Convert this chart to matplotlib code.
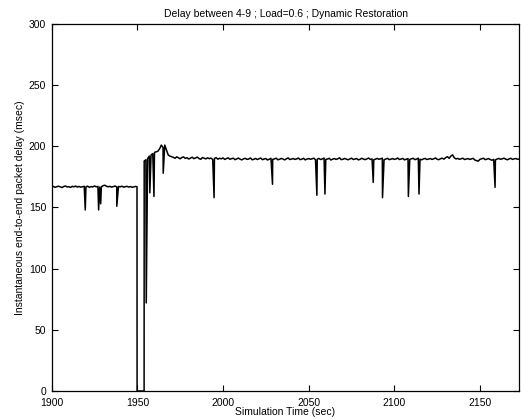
import matplotlib
matplotlib.use("Agg")
import matplotlib.pyplot as plt

# ---------------- data ----------------
title = "Delay between 4-9 ; Load=0.6 ; Dynamic Restoration"
xlabel = "Simulation Time (sec)"
ylabel = "Instantaneous end-to-end packet delay (msec)"
xticks = [1900, 1950, 2000, 2050, 2100, 2150]
yticks = [0, 50, 100, 150, 200, 250, 300]

pre_start = 1900  # one sample per second
pre_values = [
    166.8, 167.2, 166.5, 167.0, 167.4, 166.9, 166.3, 167.1, 167.6, 166.8,
    167.0, 166.4, 167.3, 166.9, 167.5, 166.7, 167.2, 166.6, 167.0, 167.3,
    166.9, 167.4, 166.5, 167.1, 166.8, 167.6, 166.9, 167.2, 166.7, 167.0,
    167.8, 168.2, 167.4, 166.9, 167.3, 166.6, 167.1, 167.5, 166.8, 167.2,
    166.9, 167.4, 166.6, 167.0, 167.3, 166.7, 167.1, 166.5, 166.9, 167.2,
]

outage_times = [1949.8, 1949.85, 1953.95, 1954.0]
outage_values = [167.0, 0.0, 0.0, 188.0]

post_start = 1955  # one sample per second
post_values = [
    189.0, 190.0, 192.0, 193.0, 194.0, 195.0, 195.5, 196.0, 198.0, 201.0,
    199.0, 201.0, 197.0, 193.0, 192.0, 191.5,
    191.0, 190.2, 191.4, 190.6, 189.8, 190.9, 191.3, 190.1, 190.7, 189.6,
    190.4, 191.1, 189.9, 190.5, 191.2, 190.0, 189.4, 190.8, 190.3, 189.7,
    190.6, 189.9, 190.4, 189.2, 190.1, 190.7, 189.5, 190.2, 189.8, 190.5,
    189.3, 190.0, 190.6, 189.4, 189.9, 190.3, 189.1, 189.7, 190.4, 189.5,
    188.9, 189.8, 190.2, 189.3, 189.6, 190.5, 189.0, 189.4, 190.1, 189.2,
    189.8, 190.4, 189.1, 189.6, 190.0, 188.8, 189.5, 190.2, 189.3, 189.7,
    190.3, 189.0, 189.4, 190.1, 189.6, 188.9, 189.8, 190.5, 189.2, 189.6,
    190.0, 189.3, 189.7, 190.4, 189.1, 189.5, 190.2, 188.9, 189.6, 190.0,
    189.4, 189.8, 190.3, 189.0, 189.5, 190.1, 189.2, 189.7, 190.4, 189.3,
    189.6, 190.2, 188.8, 189.5, 190.0, 189.3, 189.8, 190.6, 189.1, 189.4,
    190.1, 189.5, 189.0, 189.7, 190.3, 189.2, 189.6, 190.0, 188.9, 189.4,
    190.2, 189.6, 189.1, 189.8, 190.4, 189.3, 189.7, 189.0, 189.5, 190.1,
    189.4, 189.8, 190.3, 189.0, 189.6, 190.2, 189.1, 189.5, 190.0, 189.3,
    189.7, 190.4, 189.2, 189.6, 190.1, 188.9, 189.5, 190.0, 189.3, 189.8,
    190.2, 189.1, 189.6, 190.3, 189.4, 189.0, 189.7, 190.1, 189.2, 189.6,
    190.0, 189.3, 189.8, 190.5, 189.4, 189.1, 189.9, 190.3, 189.5, 190.8,
    191.5, 190.2, 192.0, 193.0, 190.6, 189.7, 190.1, 189.4, 189.8, 190.3,
    189.2, 189.6, 190.0, 189.3, 189.7, 190.2, 188.8, 188.3, 187.9, 189.4,
    189.8, 190.3, 189.1, 189.5, 190.0, 189.2, 188.6, 189.3, 188.9, 189.6,
    190.1, 189.4, 189.8, 190.3, 189.5, 189.0, 189.7, 190.2, 189.3, 189.8,
    190.0, 189.4, 189.7,
]

spike_times = [1919.6, 1927.4, 1928.6, 1938.0, 1955.2, 1957.3, 1959.7, 1965.1,
               1994.8, 2028.9, 2054.8, 2059.5, 2087.7, 2093.1, 2108.2, 2114.4,
               2158.8]
spike_values = [148, 148, 153, 151, 72, 162, 159, 178,
                158, 169, 160, 161, 170.5, 158, 159, 161,
                166.5]

# ---------------- build series ----------------
pts = []
pts += [(pre_start + i, v) for i, v in enumerate(pre_values)]
pts += list(zip(outage_times, outage_values))
pts += [(post_start + i, v) for i, v in enumerate(post_values)]
pts += list(zip(spike_times, spike_values))
pts.sort(key=lambda p: p[0])
t = [p[0] for p in pts]
y = [p[1] for p in pts]

# ---------------- plot ----------------
plt.rcParams['font.family'] = ['Liberation Sans', 'DejaVu Sans']
fig = plt.figure(figsize=(5.22, 4.19), dpi=100)
ax = fig.add_axes([0.099, 0.0668, 0.896, 0.876])
ax.plot(t, y, color='black', linewidth=1.1)
ax.set_xlim(1900, 2173)
ax.set_ylim(0, 300)
ax.set_xticks(xticks)
ax.set_yticks(yticks)
ax.tick_params(direction='in', length=4, width=0.8, labelsize=7.5,
               top=True, right=True, colors='black')
ax.tick_params(axis='x', pad=5)
ax.tick_params(axis='y', pad=4)
for s in ax.spines.values():
    s.set_linewidth(0.9)
ax.set_title(title, fontsize=7.5, pad=5)
ax.set_xlabel(xlabel, fontsize=7.5, labelpad=-1)
ax.set_ylabel(ylabel, fontsize=7.5, labelpad=3)
fig.savefig("out.png", dpi=100)
